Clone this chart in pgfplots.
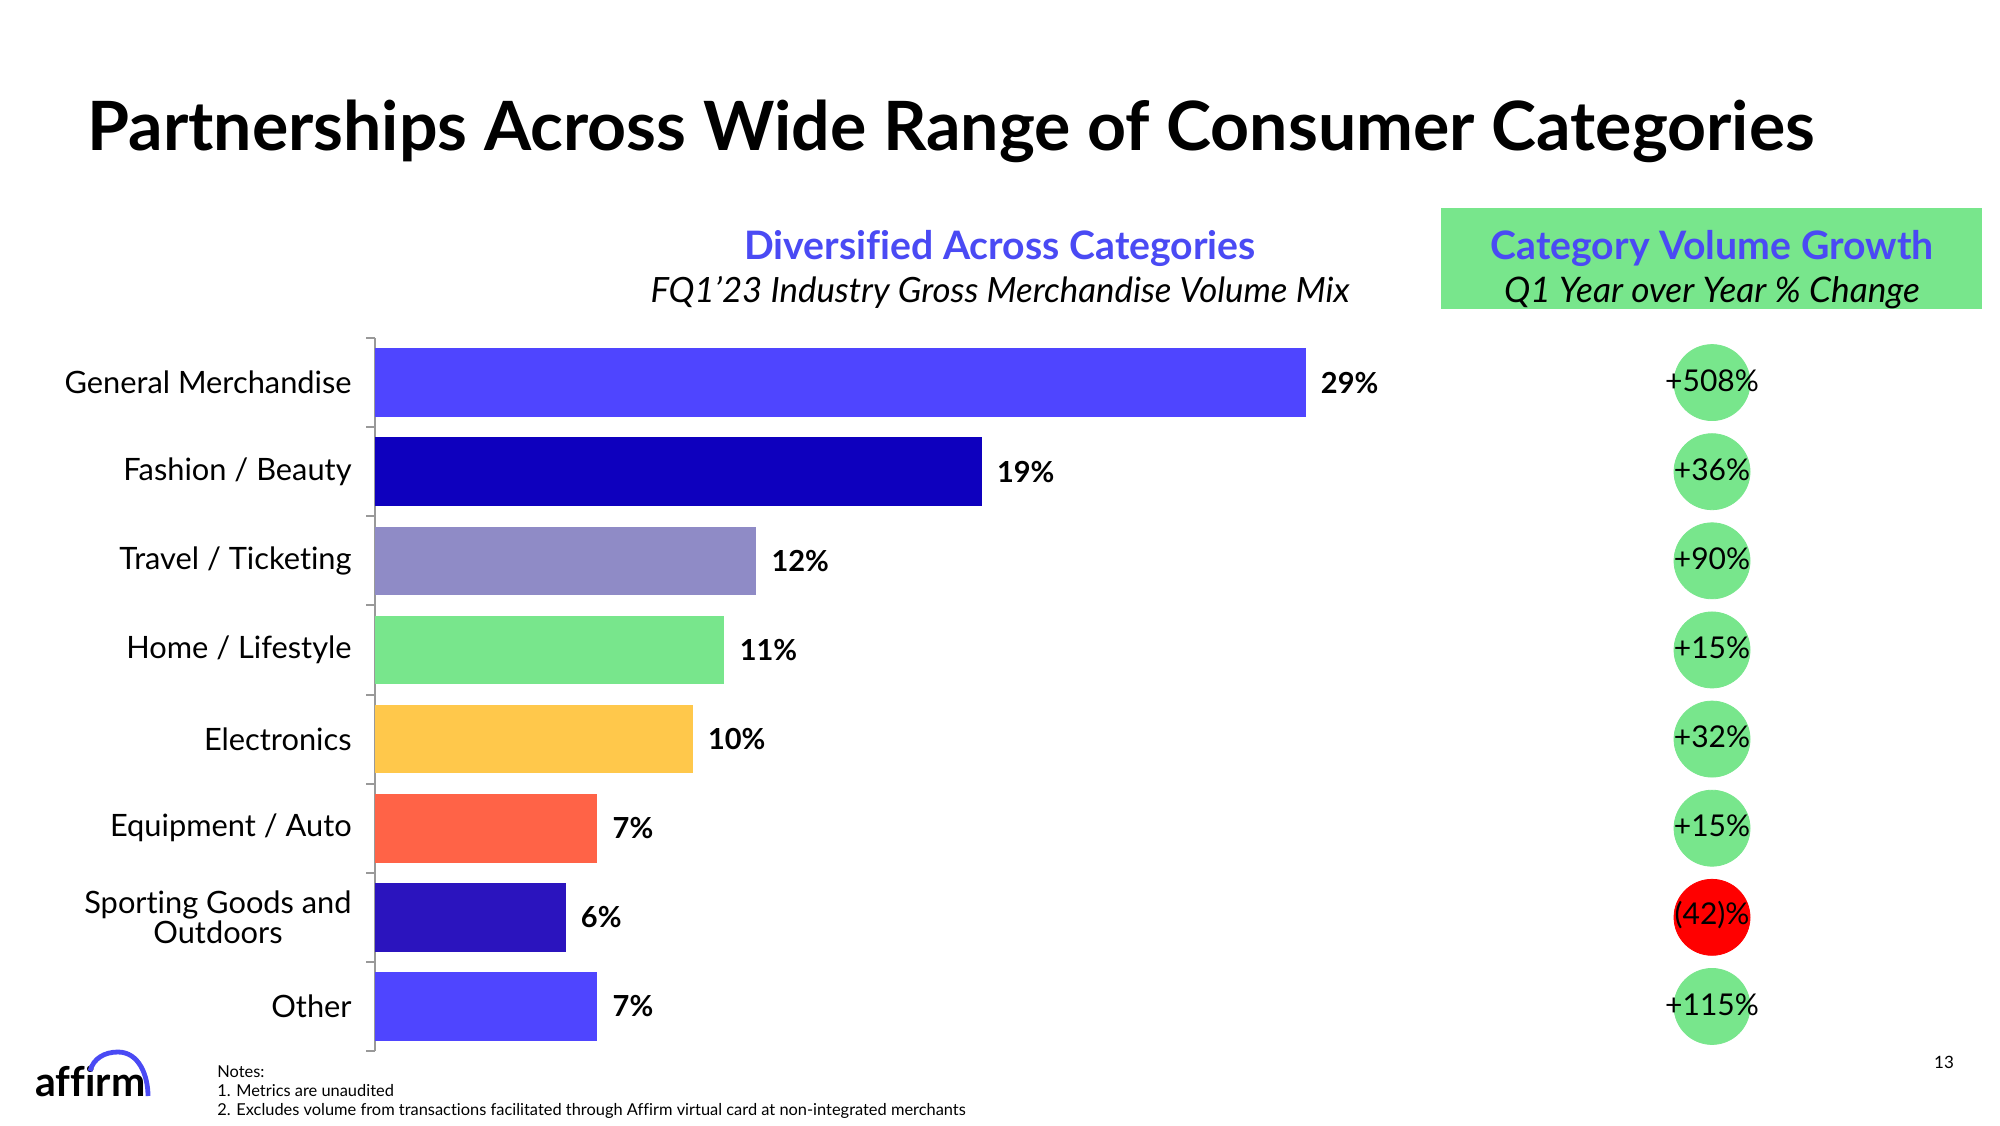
\documentclass[border=0pt]{standalone}
\usepackage{fontspec}
\setmainfont{Lato}[Ligatures=NoCommon]
\usepackage{pgfplots}
\pgfplotsset{compat=1.18}
\definecolor{affblue}{HTML}{4A4AF4}
\definecolor{cGM}{HTML}{4F45FF}
\definecolor{cFB}{HTML}{0E00BE}
\definecolor{cTT}{HTML}{8F8BC6}
\definecolor{cHL}{HTML}{78E68C}
\definecolor{cEL}{HTML}{FFC84B}
\definecolor{cEA}{HTML}{FF6347}
\definecolor{cSG}{HTML}{2B14BE}
\definecolor{cOT}{HTML}{4F45FF}
\definecolor{cGrow}{HTML}{78E68C}
\definecolor{cShrink}{HTML}{FF0000}
\begin{document}
\begin{tikzpicture}[x=1pt,y=1pt]
\useasboundingbox (0,0) rectangle (1000,562.5);
\fill[white] (0,0) rectangle (1000,562.5);

% Title
\node[anchor=base west, inner sep=0pt, font=\fontsize{34}{40}\selectfont\bfseries] at (43.5,487.25) {Partnerships Across Wide Range of Consumer Categories};

% Left subtitle
\node[anchor=base, inner sep=0pt, text=affblue, font=\fontsize{19.6}{23}\selectfont\bfseries] at (500,432.5) {Diversified Across Categories};
\node[anchor=base, inner sep=0pt, font=\fontsize{17.4}{21}\selectfont\itshape] at (500,411.4) {FQ1’23 Industry Gross Merchandise Volume Mix};

% Right header
\fill[cGrow] (720.5,408) rectangle (991,458.5);
\node[anchor=base, inner sep=0pt, text=affblue, font=\fontsize{19.6}{23}\selectfont\bfseries] at (856,432.5) {Category Volume Growth};
\node[anchor=base, inner sep=0pt, font=\fontsize{17.6}{21}\selectfont\itshape] at (856,411.4) {Q1 Year over Year \% Change};

\begin{axis}[
  at={(187.5pt,37pt)}, anchor=south west,
  scale only axis, width=555.8pt, height=356.5pt,
  xbar, xmin=0, xmax=35,
  ymin=-0.5, ymax=7.5, y dir=reverse,
  axis x line=none,
  axis y line*=left,
  y axis line style={-, draw=gray!80, line width=1pt},
  ytick={0,1,2,3,4,5,6,7},
  yticklabels={General Merchandise, Fashion / Beauty, Travel / Ticketing, Home / Lifestyle, Electronics, Equipment / Auto, {Sporting Goods and\\Outdoors}, Other},
  yticklabel style={font=\fontsize{15.4}{15.3}\selectfont, align=center, inner sep=0pt, xshift=-11.5pt},
  major tick length=0pt,
  minor ytick={-0.5,0.5,1.5,2.5,3.5,4.5,5.5,6.5,7.5},
  minor tick length=4.5pt,
  tick align=outside,
  minor tick style={draw=gray!80, line width=1pt},
  bar width=34.3pt,
  point meta=x,
  /pgf/number format/assume math mode=true,
  nodes near coords={\pgfmathprintnumber[fixed,precision=0]{\pgfplotspointmeta}\%},
  nodes near coords style={font=\fontsize{14.5}{16}\selectfont\bfseries, anchor=west, inner sep=0pt, xshift=7.5pt},
  clip=false,
]
\addplot[fill=cGM, draw=none, bar shift=0pt] coordinates {(29.3,0)};
\addplot[fill=cFB, draw=none, bar shift=0pt] coordinates {(19.1,1)};
\addplot[fill=cTT, draw=none, bar shift=0pt] coordinates {(12,2)};
\addplot[fill=cHL, draw=none, bar shift=0pt] coordinates {(11,3)};
\addplot[fill=cEL, draw=none, bar shift=0pt] coordinates {(10,4)};
\addplot[fill=cEA, draw=none, bar shift=0pt] coordinates {(7,5)};
\addplot[fill=cSG, draw=none, bar shift=0pt] coordinates {(6,6)};
\addplot[fill=cOT, draw=none, bar shift=0pt] coordinates {(7,7)};
\end{axis}

\begin{axis}[
  at={(836pt,37pt)}, anchor=south west,
  scale only axis, width=40pt, height=356.5pt,
  xmin=-1, xmax=1, ymin=-0.5, ymax=7.5, y dir=reverse,
  hide axis, clip=false,
]
\addplot[only marks, mark=*, mark size=19pt, mark options={fill=cGrow, draw=cGrow},
  nodes near coords, point meta=explicit symbolic,
  every node near coord/.append style={anchor=center, text=black, yshift=1pt, font=\fontsize{15}{17}\selectfont}]
  coordinates {(0,0)[+508\%] (0,1)[+36\%] (0,2)[+90\%] (0,3)[+15\%] (0,4)[+32\%] (0,5)[+15\%] (0,7)[+115\%]};
\addplot[only marks, mark=*, mark size=19pt, mark options={fill=cShrink, draw=cShrink},
  nodes near coords, point meta=explicit symbolic,
  every node near coord/.append style={anchor=center, text=black, yshift=1pt, font=\fontsize{15}{17}\selectfont}]
  coordinates {(0,6)[(42)\%]};
\end{axis}

% Logo
\node[anchor=base west, inner sep=0pt, font=\fontsize{20.5}{22}\selectfont\bfseries] at (17.5,14.5) {affirm};
\draw[affblue, line width=2.4pt] (45,27) to[out=75,in=180] (59,36.5) to[out=0,in=90] (74,14.5);

% Notes
\node[anchor=base west, inner sep=0pt, align=left, font=\fontsize{8.2}{9.3}\selectfont] at (108.5,5) {Notes:\\1. Metrics are unaudited\\2. Excludes volume from transactions facilitated through Affirm virtual card at non-integrated merchants};
\node[anchor=center, inner sep=0pt, font=\fontsize{8.5}{9}\selectfont] at (972,31.5) {13};
\end{tikzpicture}
\end{document}
